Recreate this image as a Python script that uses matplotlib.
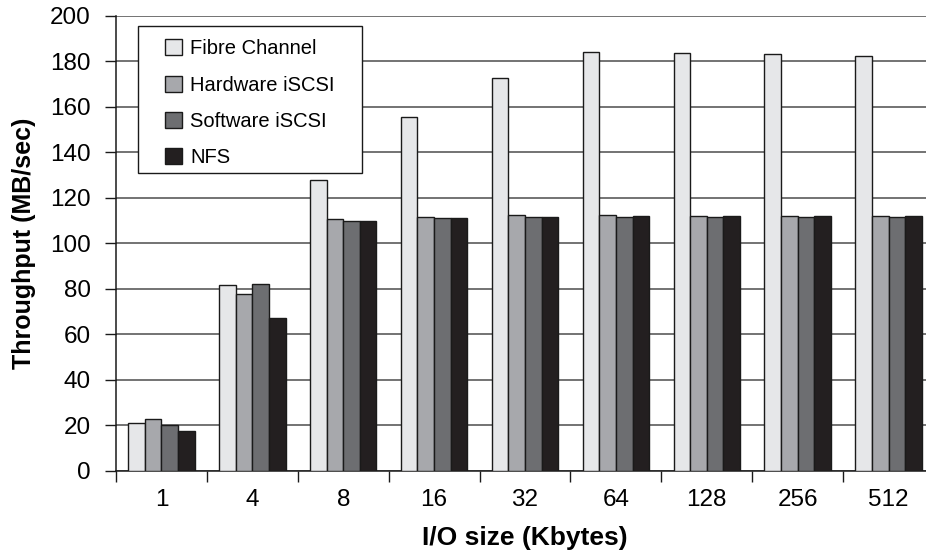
import numpy as np
import matplotlib
matplotlib.use("Agg")
import matplotlib.pyplot as plt
from matplotlib.patches import Rectangle
from matplotlib.ticker import FixedLocator, NullFormatter

plt.rcParams['font.family'] = ['Liberation Sans', 'DejaVu Sans']

io_sizes = ["1", "4", "8", "16", "32", "64", "128", "256", "512"]
series_names = ["Fibre Channel", "Hardware iSCSI", "Software iSCSI", "NFS"]
fibre_channel = [21.0, 81.6, 127.8, 155.6, 172.7, 183.9, 183.7, 183.1, 182.5]
hardware_iscsi = [22.7, 77.5, 110.5, 111.6, 112.2, 112.2, 112.1, 112.1, 112.1]
software_iscsi = [20.0, 82.2, 109.9, 110.9, 111.5, 111.5, 111.4, 111.4, 111.4]
nfs = [17.6, 67.2, 109.9, 110.9, 111.5, 112.1, 112.1, 112.1, 112.1]
y_ticks = [0, 20, 40, 60, 80, 100, 120, 140, 160, 180, 200]

colors = ["#e6e7e9", "#a7a8ac", "#6d6e71", "#231f20"]
all_series = [fibre_channel, hardware_iscsi, software_iscsi, nfs]

W, H = 926, 550
fig = plt.figure(figsize=(W / 100, H / 100), dpi=100)
ax = fig.add_axes([116 / W, 1 - 470.7 / H, 818 / W, 455 / H])

x = np.arange(len(io_sizes))
bw = 0.183
for i, (vals, name, c) in enumerate(zip(all_series, series_names, colors)):
    ax.bar(x + (i - 1.5) * bw, vals, bw, color=c, edgecolor="#1a1a1a",
           linewidth=1.0, label=name, zorder=3)

ax.set_xlim(-0.5, len(io_sizes) - 0.5)
ax.set_ylim(0, 200)
ax.set_yticks(y_ticks)
ax.yaxis.grid(True, color="#4d4d4d", linewidth=1.1, zorder=0)
ax.set_axisbelow(True)

# category labels at centers, tick marks at category boundaries
ax.set_xticks(x)
ax.set_xticklabels(io_sizes)
ax.tick_params(axis="x", which="major", length=0, pad=13, labelsize=17.5)
ax.xaxis.set_minor_locator(FixedLocator(np.arange(-0.5, len(io_sizes), 1.0)))
ax.xaxis.set_minor_formatter(NullFormatter())
ax.tick_params(axis="x", which="minor", length=8, width=1.0, color="#1a1a1a", direction="out")
ax.tick_params(axis="y", length=8, width=1.0, color="#1a1a1a", direction="out",
               labelsize=17.5, pad=10)

for s in ["top", "right"]:
    ax.spines[s].set_visible(False)
for s in ["left", "bottom"]:
    ax.spines[s].set_color("#1a1a1a")
    ax.spines[s].set_linewidth(1.1)

ax.set_ylabel("Throughput (MB/sec)", fontsize=18, fontweight="bold", labelpad=10)
ax.set_xlabel("I/O size (Kbytes)", fontsize=19, fontweight="bold", labelpad=11)

# legend box drawn separately so its padding can differ per side
box = Rectangle((0.0269, 0.6543), 0.2738, 0.3231, transform=ax.transAxes,
                facecolor="white", edgecolor="#1a1a1a", linewidth=1.0, zorder=5)
ax.add_patch(box)
leg = ax.legend(loc="upper left", bbox_to_anchor=(0.0599, 0.948), borderaxespad=0,
                fontsize=14.5, frameon=False, handlelength=0.85,
                handleheight=0.85, labelspacing=0.86, handletextpad=0.4,
                borderpad=0)
leg.set_zorder(6)
for p in leg.get_patches():
    p.set_linewidth(1.0)

fig.savefig("out.png", dpi=100)
